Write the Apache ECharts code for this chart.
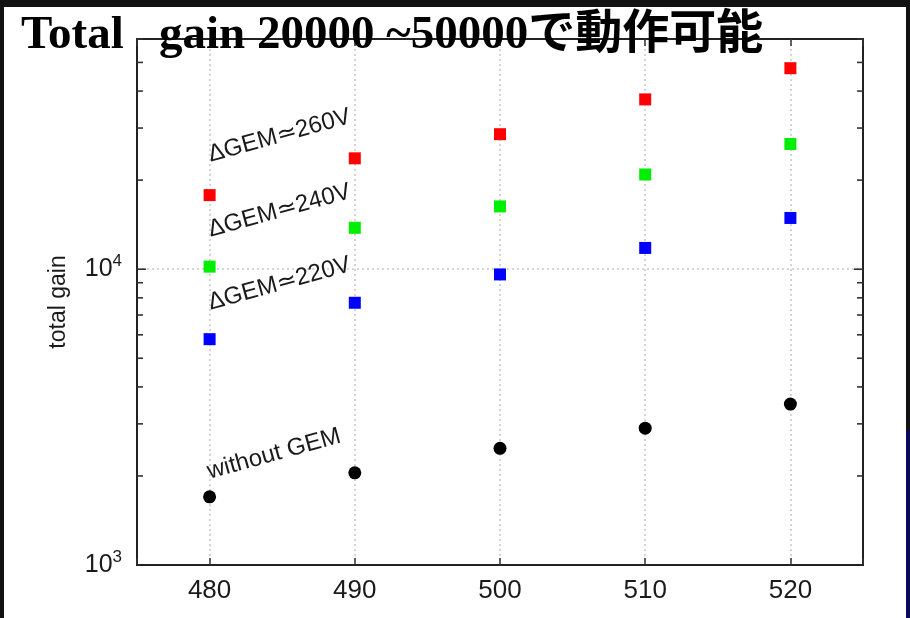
<!DOCTYPE html>
<html>
<head>
<meta charset="utf-8">
<script src="https://cdn.jsdelivr.net/npm/echarts@6/dist/echarts.min.js"></script>
<style>
  html, body { margin: 0; padding: 0; background: #121212; width: 910px; height: 618px; overflow: hidden; }
  #main { position: absolute; left: 4px; top: 7px; width: 902px; height: 611px; background: #fff; }
  #strip { position: absolute; left: 906px; top: 430px; width: 4px; height: 188px; background: #0a0a5a; }
</style>
</head>
<body>
<div id="main"></div>
<div id="strip"></div>
<script>
// anode voltage [V]
var voltages = [480, 490, 500, 510, 520];
// total gain per GEM voltage
var gain260 = [17800, 23700, 28600, 37500, 47800];
var gain240 = [10200, 13800, 16300, 20900, 26500];
var gain220 = [5800, 7700, 9600, 11800, 14900];
var gainNoGem = [1700, 2050, 2480, 2900, 3500];
// minor ticks on the log axis
var minorTicks = [2000, 3000, 4000, 5000, 6000, 7000, 8000, 9000, 20000, 30000, 40000, 50000, 60000];
var labelTexts = ['\u0394GEM\u2243260V', '\u0394GEM\u2243240V', '\u0394GEM\u2243220V', 'without GEM'];

function pairs(ys) {
    return voltages.map(function (v, i) { return [v, ys[i]]; });
}

var chart = echarts.init(document.getElementById('main'));

var sans = "'Liberation Sans', Arial, sans-serif";
var gridLine = { show: true, lineStyle: { color: '#c8c8c8', type: [2, 3], width: 1.5 } };

function logLabel(v) {
    var e = Math.log10(v);
    if (Math.abs(e - Math.round(e)) > 1e-6) return '';
    return '10{sup|' + Math.round(e) + '}';
}

var labelPos = [[208, 160], [208, 235], [208, 308], [207, 477]];

chart.setOption({
    animation: false,
    title: {
        text: 'Total   gain 20000 ~50000で動作可能',
        left: 12,
        top: 0,
        z: 10,
        textStyle: {
            fontFamily: "'Liberation Serif', 'Noto Sans CJK JP', serif",
            fontWeight: 'bold',
            fontSize: 47,
            color: '#000'
        }
    },
    grid: {
        left: 133, right: 43, top: 32, bottom: 53,
        show: true, borderColor: '#222', borderWidth: 2
    },
    xAxis: [{
        type: 'value', min: 475, max: 525,
        axisLine: { lineStyle: { color: '#222', width: 2 } },
        axisTick: { inside: true, length: 7, lineStyle: { color: '#333', width: 1.5 } },
        axisLabel: {
            margin: 13, color: '#1a1a1a', fontFamily: sans, fontSize: 26,
            formatter: function (v) { return v % 10 === 0 ? String(v) : ''; }
        },
        splitLine: gridLine
    }, {
        type: 'value', min: 475, max: 525, position: 'top',
        axisLine: { lineStyle: { color: '#222', width: 2 } },
        axisTick: { inside: true, length: 7, lineStyle: { color: '#333', width: 1.5 } },
        axisLabel: { show: false },
        splitLine: { show: false }
    }],
    yAxis: [{
        type: 'log', logBase: 10, min: 1000, max: 60000,
        name: 'total gain',
        nameLocation: 'middle',
        nameRotate: 90,
        nameGap: 67,
        nameTextStyle: { fontFamily: sans, fontSize: 23, color: '#1a1a1a' },
        axisLine: { lineStyle: { color: '#222', width: 2 } },
        axisTick: { show: false },
        axisLabel: {
            margin: 15, color: '#1a1a1a', fontFamily: sans, fontSize: 25,
            formatter: logLabel,
            rich: { sup: { fontSize: 17, verticalAlign: 'top', padding: [0, 0, 16, 0], color: '#1a1a1a', fontFamily: sans } }
        },
        splitLine: gridLine
    }, {
        type: 'log', logBase: 10, min: 1000, max: 60000, position: 'right',
        axisLine: { lineStyle: { color: '#222', width: 2 } },
        axisTick: { show: false },
        axisLabel: { show: false },
        splitLine: { show: false }
    }],
    graphic: labelTexts.map(function (t, i) {
        return {
            type: 'text',
            x: labelPos[i][0], y: labelPos[i][1],
            rotation: 15.5 * Math.PI / 180,
            z: 20,
            style: {
                text: t, fill: '#1a1a1a',
                font: '24px ' + sans,
                textAlign: 'left', textVerticalAlign: 'bottom'
            }
        };
    }),
    series: [{
        type: 'custom',
        silent: true,
        data: [].concat(minorTicks, [10000]).map(function (v) { return [v]; }),
        renderItem: function (params, api) {
            var v = api.value(0);
            var l = api.coord([475, v]);
            var r = api.coord([525, v]);
            var len = v === 10000 ? 9 : 6;
            var st = { stroke: '#333', lineWidth: 1.6 };
            return {
                type: 'group',
                children: [
                    { type: 'line', shape: { x1: l[0], y1: l[1], x2: l[0] + len, y2: l[1] }, style: st },
                    { type: 'line', shape: { x1: r[0] - len, y1: r[1], x2: r[0], y2: r[1] }, style: st }
                ]
            };
        },
        encode: { x: -1, y: 0 }
    }, {
        type: 'scatter', symbol: 'rect', symbolSize: 12,
        itemStyle: { color: '#ff0000', opacity: 1 }, data: pairs(gain260)
    }, {
        type: 'scatter', symbol: 'rect', symbolSize: 12,
        itemStyle: { color: '#00ee00', opacity: 1 }, data: pairs(gain240)
    }, {
        type: 'scatter', symbol: 'rect', symbolSize: 12,
        itemStyle: { color: '#0000ff', opacity: 1 }, data: pairs(gain220)
    }, {
        type: 'scatter', symbol: 'circle', symbolSize: 13,
        itemStyle: { color: '#000', opacity: 1 }, data: pairs(gainNoGem)
    }]
});
</script>
</body>
</html>
